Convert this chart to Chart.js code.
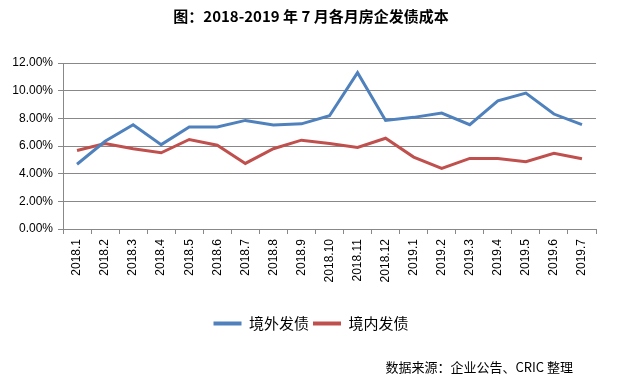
<!DOCTYPE html>
<html>
<head>
<meta charset="utf-8">
<script src="https://cdn.jsdelivr.net/npm/chart.js@4"></script>
<style>
  html, body { margin: 0; padding: 0; background: #fff; }
  #wrap { width: 622px; height: 383px; position: relative; }
</style>
</head>
<body>
<div id="wrap"><canvas id="c" width="622" height="383"></canvas></div>
<script>
const categories = ["2018.1","2018.2","2018.3","2018.4","2018.5","2018.6","2018.7","2018.8","2018.9","2018.10","2018.11","2018.12","2019.1","2019.2","2019.3","2019.4","2019.5","2019.6","2019.7"];
const overseas = [4.68, 6.34, 7.54, 6.10, 7.38, 7.38, 7.85, 7.52, 7.60, 8.19, 11.30, 7.85, 8.07, 8.38, 7.54, 9.27, 9.82, 8.31, 7.54];
const domestic = [5.68, 6.18, 5.80, 5.51, 6.47, 6.06, 4.74, 5.80, 6.42, 6.18, 5.89, 6.56, 5.20, 4.38, 5.10, 5.10, 4.86, 5.48, 5.08];
const seriesNames = ["境外发债", "境内发债"];
const yTicks = [0, 2, 4, 6, 8, 10, 12];
const titleText = "图：2018-2019 年 7 月各月房企发债成本";
const sourceText = "数据来源：企业公告、CRIC 整理";

const gridColor = "#888888";
const latin = "'Liberation Sans', Arial, sans-serif";
const cjk = "'Noto Sans CJK SC', 'Liberation Sans', sans-serif";

const sourcePlugin = {
  id: 'sourceText',
  afterDraw(chart) {
    const ctx = chart.ctx;
    ctx.save();
    ctx.font = "13px " + cjk;
    ctx.fillStyle = "#000";
    ctx.textAlign = "right";
    ctx.textBaseline = "middle";
    ctx.fillText(sourceText, chart.width - 49, 367);
    ctx.restore();
  }
};

new Chart(document.getElementById('c'), {
  type: 'line',
  data: {
    labels: categories,
    datasets: [
      { label: seriesNames[0], data: overseas, borderColor: '#4F81BD', backgroundColor: '#4F81BD', borderWidth: 3, pointRadius: 0, tension: 0 },
      { label: seriesNames[1], data: domestic, borderColor: '#C0504D', backgroundColor: '#C0504D', borderWidth: 3, pointRadius: 0, tension: 0 }
    ]
  },
  options: {
    responsive: false,
    animation: false,
    devicePixelRatio: 1,
    layout: { padding: { left: 0, right: 0, top: 0, bottom: 42 } },
    plugins: {
      title: {
        display: true,
        text: titleText,
        font: { family: cjk, size: 15, weight: 'bold' },
        color: '#000',
        padding: { top: 7, bottom: 38 }
      },
      legend: {
        position: 'bottom',
        labels: {
          font: { family: cjk, size: 15 },
          color: '#000',
          boxWidth: 28,
          boxHeight: 4,
          padding: 4,
          generateLabels(chart) {
            return chart.data.datasets.map((ds, i) => ({
              text: ds.label,
              fillStyle: ds.borderColor,
              strokeStyle: ds.borderColor,
              lineWidth: 0,
              datasetIndex: i,
              hidden: false
            }));
          }
        }
      },
      tooltip: { enabled: false }
    },
    scales: {
      x: {
        type: 'category',
        offset: true,
        grid: { display: true, drawOnChartArea: false, offset: true, tickLength: 5, color: gridColor },
        border: { display: true, color: gridColor },
        ticks: { font: { family: latin, size: 12 }, color: '#000', minRotation: 90, maxRotation: 90, padding: 5, autoSkip: false },
        afterFit(scale) { scale.height = 83; }
      },
      y: {
        min: 0, max: 12,
        afterBuildTicks(scale) { scale.ticks = yTicks.map(v => ({ value: v })); },
        grid: { color: gridColor, tickLength: 5 },
        border: { display: true, color: gridColor },
        ticks: { font: { family: latin, size: 12 }, color: '#000', padding: 5, callback: v => v.toFixed(2) + '%' },
        afterFit(scale) { scale.width = 63; }
      },
      yRight: {
        position: 'right',
        display: true,
        grid: { display: false },
        border: { display: false },
        ticks: { display: false },
        afterFit(scale) { scale.width = 26; }
      }
    }
  },
  plugins: [sourcePlugin]
});
</script>
</body>
</html>
